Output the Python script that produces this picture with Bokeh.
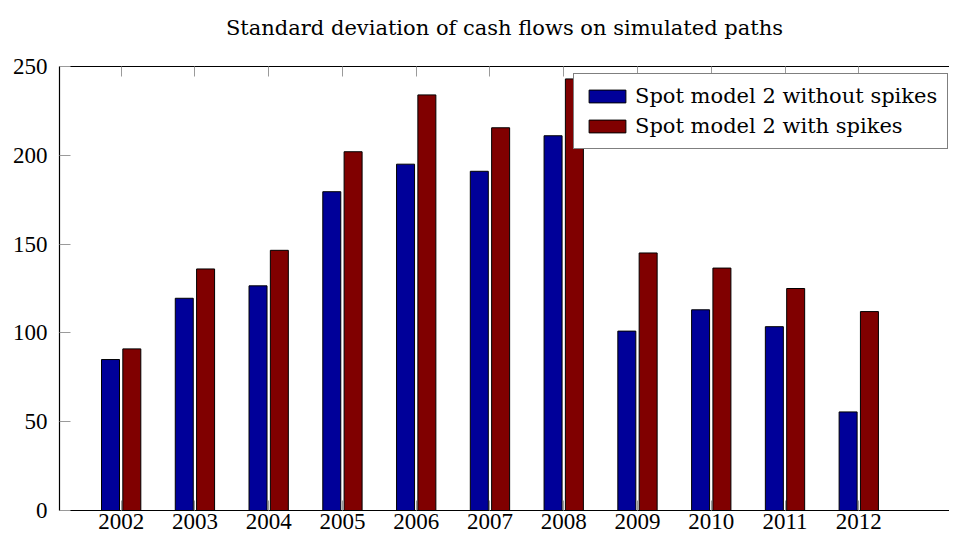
from bokeh.plotting import figure
from bokeh.models import ColumnDataSource, FixedTicker, Range1d, LinearAxis, Legend, LegendItem
from bokeh.transform import dodge
from bokeh.embed import file_html
from bokeh.resources import INLINE

years = [2002, 2003, 2004, 2005, 2006, 2007, 2008, 2009, 2010, 2011, 2012]
year_labels = [str(y) for y in years]
without_spikes = [85, 119.5, 126.5, 179.5, 195, 191, 211, 101, 113, 103.5, 55.5]
with_spikes = [91, 136, 146.5, 202, 234, 215.5, 243, 145, 136.5, 125, 112]
y_ticks = [0, 50, 100, 150, 200, 250]
title_text = "Standard deviation of cash flows on simulated paths"

src = ColumnDataSource(dict(x=years, a=without_spikes, b=with_spikes))

p = figure(width=949, height=539, output_backend="svg", toolbar_location=None,
           x_range=Range1d(2001.164, 2013.23), y_range=Range1d(0, 250),
           min_border_left=59, min_border_right=0, min_border_top=64, min_border_bottom=29)

p.title.text = title_text
p.title.text_font = "DejaVu Serif"
p.title.text_font_size = "21px"
p.title.text_font_style = "normal"
p.title.align = "center"
p.title.vertical_align = "top"
p.title.text_color = "black"
p.title.standoff = 30

bw = 0.244
r1 = p.vbar(x=dodge("x", -0.1445, range=p.x_range), top="a", width=bw, source=src,
            fill_color="#000099", line_color="black", line_width=1)
r2 = p.vbar(x=dodge("x", 0.1445, range=p.x_range), top="b", width=bw, source=src,
            fill_color="#800000", line_color="black", line_width=1)

p.xgrid.visible = False
p.ygrid.visible = False
p.outline_line_color = None

tick_color = "#9a9a9a"
xa = p.xaxis[0]
xa.ticker = FixedTicker(ticks=years)
xa.major_label_overrides = {y: l for y, l in zip(years, year_labels)}
xa.major_tick_in = 10
xa.major_tick_out = 0
xa.minor_tick_line_color = None
xa.major_tick_line_color = tick_color
xa.axis_line_color = "black"
xa.axis_line_width = 1.2
xa.major_label_text_font = "Liberation Serif"
xa.major_label_text_font_size = "23px"
xa.major_label_text_color = "black"
xa.major_label_standoff = 3

ya = p.yaxis[0]
ya.ticker = FixedTicker(ticks=y_ticks)
ya.major_tick_in = 11
ya.major_tick_out = 0
ya.minor_tick_line_color = None
ya.major_tick_line_color = tick_color
ya.axis_line_color = "black"
ya.axis_line_width = 1.2
ya.major_label_text_font = "Liberation Serif"
ya.major_label_text_font_size = "23px"
ya.major_label_text_color = "black"
ya.major_label_standoff = 12

top = LinearAxis(ticker=FixedTicker(ticks=years), major_tick_in=10, major_tick_out=0,
                 minor_tick_line_color=None, major_tick_line_color=tick_color,
                 axis_line_color="black", axis_line_width=1.2,
                 major_label_text_font_size="7px", major_label_standoff=0,
                 major_label_text_color="white")
top.major_label_overrides = {y: " " for y in years}
p.add_layout(top, "above")

legend = Legend(items=[LegendItem(label="Spot model 2 without spikes", renderers=[r1]),
                       LegendItem(label="Spot model 2 with spikes", renderers=[r2])],
                location=(514, 361))
legend.label_text_font = "DejaVu Serif"
legend.label_text_font_size = "21px"
legend.label_text_color = "black"
legend.glyph_width = 46
legend.glyph_height = 16
legend.label_standoff = 5
legend.padding = 10
legend.spacing = 6
legend.margin = 0
legend.border_line_color = "black"
legend.border_line_width = 1
legend.background_fill_color = "white"
legend.background_fill_alpha = 1.0
p.add_layout(legend, "center")

open("out.html", "w").write(file_html(p, INLINE))
